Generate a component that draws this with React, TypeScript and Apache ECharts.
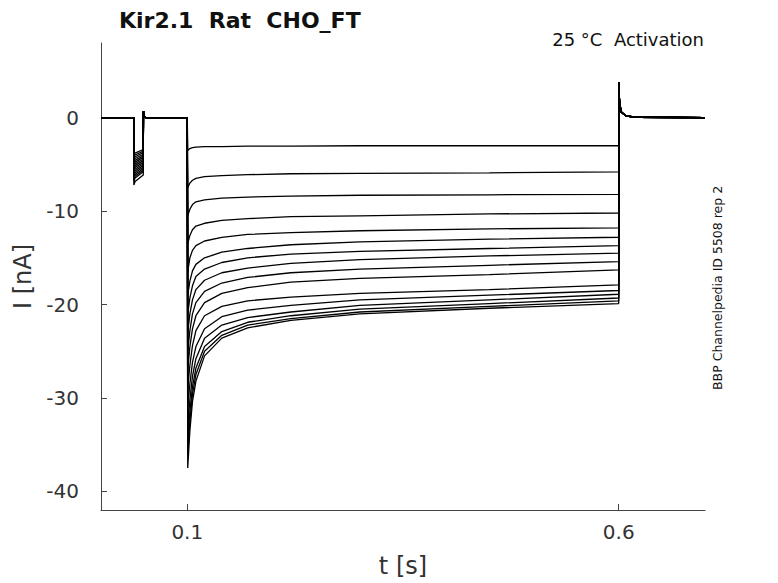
import React, { useEffect, useRef } from "react";
import * as echarts from "echarts";

const SAMPLE_T = [0.1005, 0.103, 0.106, 0.11, 0.12, 0.14, 0.17, 0.22, 0.3, 0.45, 0.6];
const TRACES: number[][] = [
  [-3.5, -3.3, -3.2, -3.15, -3.1, -3.1, -3.05, -3.05, -3.0, -3.0, -3.0],
  [-7.5, -7.0, -6.7, -6.5, -6.3, -6.2, -6.1, -6.0, -5.95, -5.9, -5.8],
  [-10.5, -9.8, -9.3, -9.0, -8.8, -8.6, -8.5, -8.4, -8.3, -8.25, -8.2],
  [-13.5, -12.6, -12.0, -11.6, -11.3, -11.0, -10.8, -10.6, -10.5, -10.3, -10.2],
  [-16.5, -15.0, -14.2, -13.7, -13.2, -12.8, -12.5, -12.3, -12.1, -11.9, -11.8],
  [-19, -17.5, -16.4, -15.7, -15.0, -14.4, -14.0, -13.6, -13.3, -13.0, -12.8],
  [-21, -19.3, -18.0, -17.0, -16.2, -15.5, -15.0, -14.6, -14.3, -14.0, -13.7],
  [-23, -21, -19.5, -18.4, -17.4, -16.6, -16.1, -15.6, -15.2, -14.8, -14.5],
  [-25, -22.8, -21.0, -19.8, -18.6, -17.7, -17.1, -16.6, -16.2, -15.8, -15.4],
  [-27, -24.5, -22.6, -21.2, -19.8, -18.8, -18.2, -17.6, -17.2, -16.8, -16.3],
  [-29, -26.5, -24.4, -22.8, -21.2, -20.2, -19.6, -19.2, -18.8, -18.4, -17.9],
  [-31, -28.5, -26.2, -24.5, -22.6, -21.3, -20.6, -20.1, -19.5, -19.0, -18.5],
  [-33, -30.2, -27.7, -25.8, -23.6, -22.2, -21.4, -20.8, -20.1, -19.5, -18.9],
  [-34.5, -31.5, -28.8, -26.8, -24.5, -22.9, -21.9, -21.2, -20.5, -19.9, -19.3],
  [-36, -32.5, -29.6, -27.5, -25.0, -23.3, -22.2, -21.5, -20.8, -20.2, -19.6],
  [-37.5, -33.5, -30.4, -28.2, -25.5, -23.6, -22.5, -21.7, -21.0, -20.4, -19.9],
];
const DIPS = [-4.0, -4.2, -4.4, -4.6, -4.8, -5.0, -5.2, -5.4, -5.6, -5.8, -6.0, -6.2, -6.4, -6.6, -6.8, -7.2];
const X_TICKS = [0.1, 0.6];
const Y_TICKS = [-40, -30, -20, -10, 0];

function buildTrace(i: number): number[][] {
  const tr = TRACES[i];
  const d = DIPS[i];
  const pts: number[][] = [
    [0, 0], [0.038, 0], [0.0381, d], [0.0395, d * 0.95], [0.049, d * 0.85],
    [0.0492, 0.7], [0.0505, 0.1], [0.052, 0], [0.1, 0],
  ];
  SAMPLE_T.forEach((t, k) => pts.push([t, tr[k]]));
  pts.push([0.6001, 3.8], [0.601, 1.6], [0.603, 0.6], [0.608, 0.2], [0.62, 0.05], [0.7, 0]);
  return pts;
}

export default function App() {
  const ref = useRef<HTMLDivElement>(null);
  useEffect(() => {
    const chart = echarts.init(ref.current!, null, { renderer: "svg" });
    const font = "DejaVu Sans";
    chart.setOption({
      animation: false,
      textStyle: { fontFamily: font },
      grid: { left: 101, right: 73, top: 43, bottom: 71 },
      title: [
        { text: "Kir2.1  Rat  CHO_FT", left: 114, top: 4, textStyle: { fontSize: 22, fontWeight: "bold", color: "#111", fontFamily: font } },
      ],
      graphic: [
        { type: "text", right: 74, top: 30, style: { text: "25 °C  Activation", fontSize: 18, fill: "#111", fontFamily: font } },
        { type: "text", x: 711, y: 390, rotation: Math.PI / 2, style: { text: "BBP Channelpedia ID 5508 rep 2", fontSize: 12.5, fill: "#111", fontFamily: font } },
      ],
      xAxis: {
        type: "value", min: 0, max: 0.7,
        name: "t [s]", nameLocation: "middle", nameGap: 44,
        nameTextStyle: { fontSize: 24, color: "#333" },
        axisLine: { onZero: false, lineStyle: { color: "#444" } },
        axisTick: { inside: true, length: 6, customValues: X_TICKS, lineStyle: { color: "#444" } },
        axisLabel: { customValues: X_TICKS, fontSize: 20, color: "#333", margin: 12 },
        splitLine: { show: false },
      },
      yAxis: {
        type: "value", min: -42, max: 8,
        name: "I [nA]", nameLocation: "middle", nameGap: 60,
        nameTextStyle: { fontSize: 24, color: "#333" },
        axisLine: { onZero: false, lineStyle: { color: "#444" } },
        axisTick: { inside: true, length: 6, customValues: Y_TICKS, lineStyle: { color: "#444" } },
        axisLabel: { customValues: Y_TICKS, fontSize: 20, color: "#333", margin: 22 },
        splitLine: { show: false },
      },
      series: TRACES.map((_, i) => ({
        type: "line", data: buildTrace(i), showSymbol: false, symbol: "none",
        lineStyle: { color: "#000", width: 1.3 }, silent: true,
      })),
    });
    return () => chart.dispose();
  }, []);
  return <div ref={ref} style={{ width: 778, height: 583, position: "absolute", left: 0, top: 0 }} />;
}
